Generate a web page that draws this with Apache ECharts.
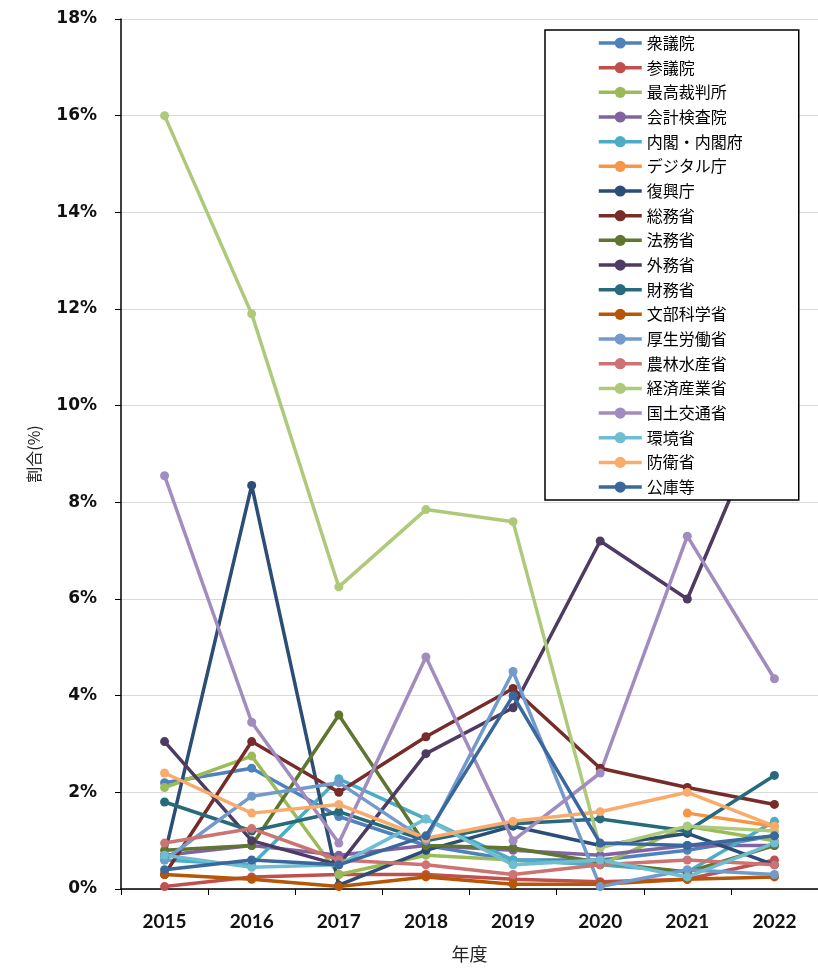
<!DOCTYPE html>
<html>
<head>
<meta charset="utf-8">
<script src="https://cdn.jsdelivr.net/npm/echarts@6/dist/echarts.min.js"></script>
<style>
  html, body { margin: 0; padding: 0; background: #fff; }
  #chart { width: 818px; height: 968px; }
</style>
</head>
<body>
<div id="chart"></div>
<script>
// 年度
const years = ['2015', '2016', '2017', '2018', '2019', '2020', '2021', '2022'];

// 機関名（凡例の順）
const agencies = [
  '衆議院', '参議院', '最高裁判所', '会計検査院', '内閣・内閣府', 'デジタル庁',
  '復興庁', '総務省', '法務省', '外務省', '財務省', '文部科学省',
  '厚生労働省', '農林水産省', '経済産業省', '国土交通省', '環境省', '防衛省', '公庫等'
];

// 各機関の割合（%）
const shugiin      = [2.2, 2.5, 1.5, 0.9, 0.6, 0.6, 0.8, 1.1];
const sangiin      = [0.05, 0.25, 0.3, 0.3, 0.2, 0.15, 0.2, 0.6];
const saikosai     = [2.1, 2.75, 0.3, 0.7, 0.6, 0.5, 1.3, 1.0];
const kaikei       = [0.7, 0.9, 0.7, 0.9, 0.8, 0.7, 0.9, 0.9];
const naikaku      = [0.6, 0.5, 2.28, 1.45, 0.6, 0.5, 0.35, 1.4];
const digital      = [null, null, null, null, null, null, 1.57, 1.3];
const fukko        = [0.7, 8.35, 0.08, 0.8, 1.3, 0.9, 1.15, 0.5];
const somu         = [0.3, 3.05, 2.0, 3.15, 4.15, 2.5, 2.1, 1.75];
const homu         = [0.8, 0.9, 3.6, 0.9, 0.85, 0.55, 0.35, 0.9];
const gaimu        = [3.05, 1.0, 0.5, 2.8, 3.75, 7.2, 6.0, 10.25];
const zaimu        = [1.8, 1.2, 1.6, 1.0, 1.35, 1.45, 1.2, 2.35];
const monbu        = [0.3, 0.2, 0.05, 0.25, 0.1, 0.1, 0.2, 0.25];
const kosei        = [0.6, 1.92, 2.2, 1.0, 4.5, 0.05, 0.4, 0.3];
const norin        = [0.95, 1.25, 0.6, 0.5, 0.3, 0.5, 0.6, 0.5];
const keisan       = [16.0, 11.9, 6.25, 7.85, 7.6, 0.85, 1.3, 1.2];
const kokudo       = [8.55, 3.45, 0.95, 4.8, 1.0, 2.4, 7.3, 4.35];
const kankyo       = [0.7, 0.45, 0.5, 1.45, 0.5, 0.6, 0.25, 0.95];
const boei         = [2.4, 1.57, 1.75, 1.05, 1.4, 1.6, 2.0, 1.3];
const koko         = [0.4, 0.6, 0.5, 1.1, 4.0, 0.95, 0.9, 1.1];

const seriesValues = [
  shugiin, sangiin, saikosai, kaikei, naikaku, digital, fukko, somu, homu, gaimu,
  zaimu, monbu, kosei, norin, keisan, kokudo, kankyo, boei, koko
];

// 線の色
const colors = [
  '#4F81BD', '#C0504D', '#9BBB59', '#8064A2', '#4BACC6', '#F79646',
  '#2C4D75', '#772C2A', '#5F7530', '#4D3B62', '#276A7C', '#B65708',
  '#729ACA', '#CD7371', '#AFC97A', '#A08CBE', '#6FBDD1', '#F9AB6B', '#3A679C'
];

// y軸の目盛り
const yTicks = [0, 2, 4, 6, 8, 10, 12, 14, 16, 18];

const chart = echarts.init(document.getElementById('chart'), null, { renderer: 'canvas' });

const series = agencies.map((name, i) => ({
  name: name,
  type: 'line',
  data: seriesValues[i],
  symbol: 'circle',
  symbolSize: 9,
  connectNulls: false,
  lineStyle: { width: 3.5, color: colors[i] },
  itemStyle: { color: colors[i] },
  emphasis: { disabled: true },
  animation: false
}));

chart.setOption({
  animation: false,
  color: colors,
  grid: { left: 121, right: -12, top: 19, bottom: 79, containLabel: false },
  legend: {
    orient: 'vertical',
    left: 545,
    top: 30,
    padding: [5, 56, 5, 52],
    itemWidth: 43,
    itemHeight: 14,
    itemGap: 8.67,
    borderColor: '#000',
    borderWidth: 1.5,
    backgroundColor: '#fff',
    lineStyle: { width: 3.5 },
    textStyle: { fontFamily: 'Noto Sans CJK JP', fontSize: 16, color: '#000' },
    data: agencies
  },
  xAxis: {
    type: 'category',
    data: years,
    boundaryGap: true,
    name: '年度',
    nameLocation: 'middle',
    nameGap: 56,
    nameTextStyle: { fontFamily: 'Noto Sans CJK JP', fontSize: 18, color: '#222' },
    axisLine: { lineStyle: { color: '#000', width: 1.5 } },
    axisTick: { show: true, alignWithLabel: false, length: 6, lineStyle: { color: '#000' } },
    axisLabel: { fontFamily: 'Lato', fontWeight: 'bold', fontSize: 19, color: '#111', margin: 23 }
  },
  yAxis: {
    type: 'value',
    min: yTicks[0],
    max: yTicks[yTicks.length - 1],
    interval: 2,
    name: '割合(%)',
    nameLocation: 'middle',
    nameGap: 79,
    nameRotate: 90,
    nameTextStyle: { fontFamily: 'Noto Sans CJK JP', fontSize: 16, color: '#222' },
    axisLine: { show: true, lineStyle: { color: '#000', width: 1.5 } },
    axisTick: { show: true, length: 6, inside: false, lineStyle: { color: '#000' } },
    splitLine: { show: true, lineStyle: { color: '#d9d9d9', width: 1 } },
    axisLabel: {
      fontFamily: 'DejaVu Sans', fontWeight: 'bold', fontSize: 17, color: '#111', margin: 24,
      formatter: v => v + '%'
    }
  },
  series: series
});
</script>
</body>
</html>
